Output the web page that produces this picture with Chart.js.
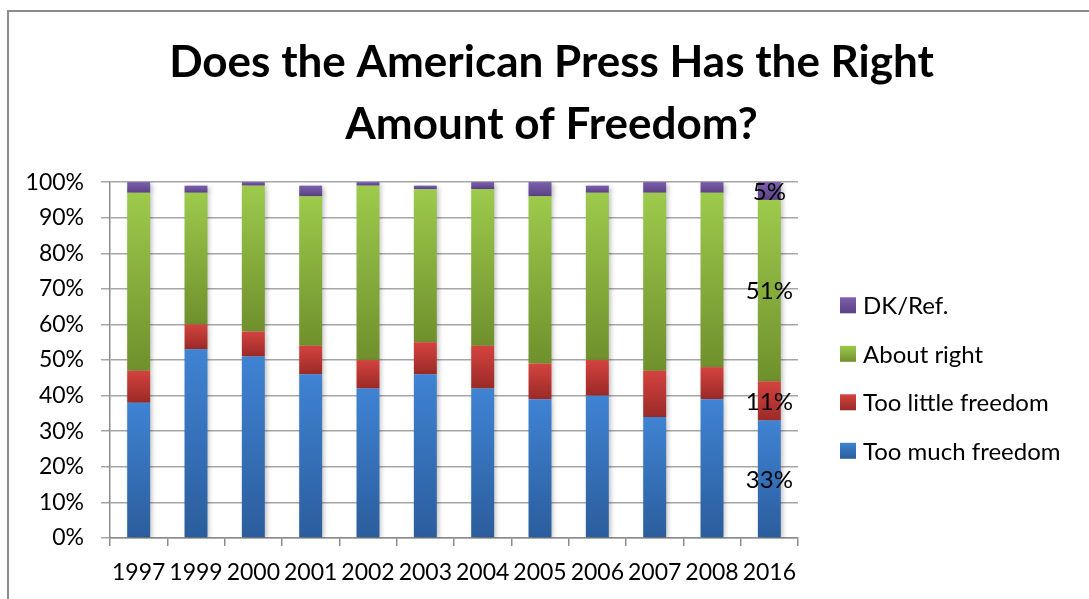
<!DOCTYPE html>
<html>
<head>
<meta charset="utf-8">
<script src="https://cdn.jsdelivr.net/npm/chart.js@4"></script>
<style>
  html, body { margin: 0; padding: 0; background: #fff; }
  #wrap { position: relative; width: 1089px; height: 599px; overflow: hidden; }
  #frame { position: absolute; left: 7px; top: 10px; width: 1100px; height: 620px; border: 2px solid #8c8c8c; box-sizing: border-box; }
  canvas { position: absolute; left: 0; top: 0; }
</style>
</head>
<body>
<div id="wrap">
  <div id="frame"></div>
  <canvas id="chart" width="1089" height="599"></canvas>
</div>
<script>
// Press freedom survey, share of answers per year (%)

const years = ['1997', '1999', '2000', '2001', '2002', '2003', '2004', '2005', '2006', '2007', '2008', '2016'];

const tooMuch    = [38, 53, 51, 46, 42, 46, 42, 39, 40, 34, 39, 33];
const tooLittle  = [9, 7, 7, 8, 8, 9, 12, 10, 10, 13, 9, 11];
const aboutRight = [50, 37, 41, 42, 49, 43, 44, 47, 47, 50, 49, 51];
const dkRef      = [3, 2, 1, 3, 1, 1, 2, 4, 2, 3, 3, 5];

const seriesNames = ['Too much freedom', 'Too little freedom', 'About right', 'DK/Ref.'];
const yTicks = [0, 10, 20, 30, 40, 50, 60, 70, 80, 90, 100];
const labelYear = '2016';

const seriesData = [tooMuch, tooLittle, aboutRight, dkRef];

// top / bottom colours of each segment gradient
const shades = [
  ['#3f83d3', '#2b5d9c'],
  ['#d4433f', '#9a2a27'],
  ['#9dca4c', '#6f902c'],
  ['#7c5fae', '#5a4283'],
];

const FONT = 'Lato, "Open Sans", sans-serif';

function segmentFill(dsIndex) {
  return (ctx) => {
    const colors = shades[dsIndex];
    if (ctx.type !== 'data') return colors[0];
    const chart = ctx.chart;
    const y = chart.scales.y;
    if (!chart.chartArea || !y) return colors[0];
    const i = ctx.dataIndex;
    let base = 0;
    for (let d = 0; d < dsIndex; d++) base += seriesData[d][i];
    const top = base + seriesData[dsIndex][i];
    const g = chart.ctx.createLinearGradient(0, y.getPixelForValue(top), 0, y.getPixelForValue(base));
    g.addColorStop(0, colors[0]);
    g.addColorStop(1, colors[1]);
    return g;
  };
}

// soft drop shadow behind the bars
const barShadow = {
  id: 'barShadow',
  beforeDatasetsDraw(chart) {
    const c = chart.ctx;
    c.save();
    c.shadowColor = 'rgba(0,0,0,0.28)';
    c.shadowBlur = 5;
    c.shadowOffsetX = 2;
    c.shadowOffsetY = 2;
  },
  afterDatasetsDraw(chart) {
    chart.ctx.restore();
  },
};

// value labels on the last bar
const lastBarLabels = {
  id: 'lastBarLabels',
  afterDatasetsDraw(chart) {
    const idx = chart.data.labels.indexOf(labelYear);
    if (idx < 0) return;
    const c = chart.ctx;
    c.save();
    c.font = '24px ' + FONT;
    c.fillStyle = '#000';
    c.textAlign = 'center';
    c.textBaseline = 'middle';
    chart.data.datasets.forEach((ds, d) => {
      const el = chart.getDatasetMeta(d).data[idx];
      if (!el) return;
      c.fillText(ds.data[idx] + '%', el.x, (el.y + el.base) / 2 + 1);
    });
    c.restore();
  },
};

// legend as its own layout box on the right
const sideLegend = {
  id: 'sideLegend',
  beforeInit(chart) {
    const box = {
      position: 'right',
      weight: 0,
      fullSize: false,
      options: { stackWeight: 1 },
      top: 0, left: 0, right: 0, bottom: 0, width: 0, height: 0,
      isHorizontal() { return false; },
      update(maxWidth, maxHeight) {
        this.width = 291;
        this.height = maxHeight;
      },
      draw() {
        const c = chart.ctx;
        const step = 48.5;
        const items = chart.data.datasets.map((ds, d) => ({ text: ds.label, color: shades[d] })).reverse();
        let y = (this.top + this.bottom) / 2 + 18 - step * (items.length - 1) / 2;
        c.save();
        c.font = '24px ' + FONT;
        c.textBaseline = 'middle';
        c.textAlign = 'left';
        items.forEach((it) => {
          const g = c.createLinearGradient(0, y - 8, 0, y + 8);
          g.addColorStop(0, it.color[0]);
          g.addColorStop(1, it.color[1]);
          c.fillStyle = g;
          c.fillRect(this.left + 42, y - 8, 16, 16);
          c.fillStyle = '#000';
          c.fillText(it.text, this.left + 65, y + 1);
          y += step;
        });
        c.restore();
      },
    };
    Chart.layouts.addBox(chart, box);
  },
};

new Chart(document.getElementById('chart'), {
  type: 'bar',
  data: {
    labels: years,
    datasets: seriesNames.map((name, d) => ({
      label: name,
      data: seriesData[d],
      backgroundColor: segmentFill(d),
      borderWidth: 0,
      barPercentage: 0.8,
      categoryPercentage: 0.5,
    })),
  },
  options: {
    responsive: false,
    animation: false,
    layout: { padding: { left: 14, right: 0, top: 0, bottom: 0 } },
    plugins: {
      title: {
        display: true,
        text: ['Does the American Press Has the Right', 'Amount of Freedom?'],
        color: '#000',
        font: { family: FONT, size: 44, weight: 'bold', lineHeight: 1.41 },
        padding: { top: 32, bottom: 26 },
      },
      legend: { display: false },
      tooltip: { enabled: false },
    },
    scales: {
      x: {
        stacked: true,
        afterFit(scale) { scale.height = 61; },
        grid: { display: true, drawOnChartArea: false, offset: true, tickLength: 8, color: '#8c8c8c', lineWidth: 1.5 },
        border: { color: '#8c8c8c', width: 1.5 },
        ticks: { color: '#000', font: { family: FONT, size: 23 }, padding: 13, maxRotation: 0, autoSkip: false },
      },
      y: {
        stacked: true,
        min: 0,
        max: 100,
        afterFit(scale) { scale.width = 96; },
        afterBuildTicks(axis) { axis.ticks = yTicks.map((v) => ({ value: v })); },
        grid: { color: '#a6a6a6', lineWidth: 1.5, tickLength: 9 },
        border: { color: '#8c8c8c', width: 1.5 },
        ticks: { color: '#000', font: { family: FONT, size: 23 }, padding: 17, callback: (v) => v + '%' },
      },
    },
  },
  plugins: [barShadow, lastBarLabels, sideLegend],
});
</script>
</body>
</html>
